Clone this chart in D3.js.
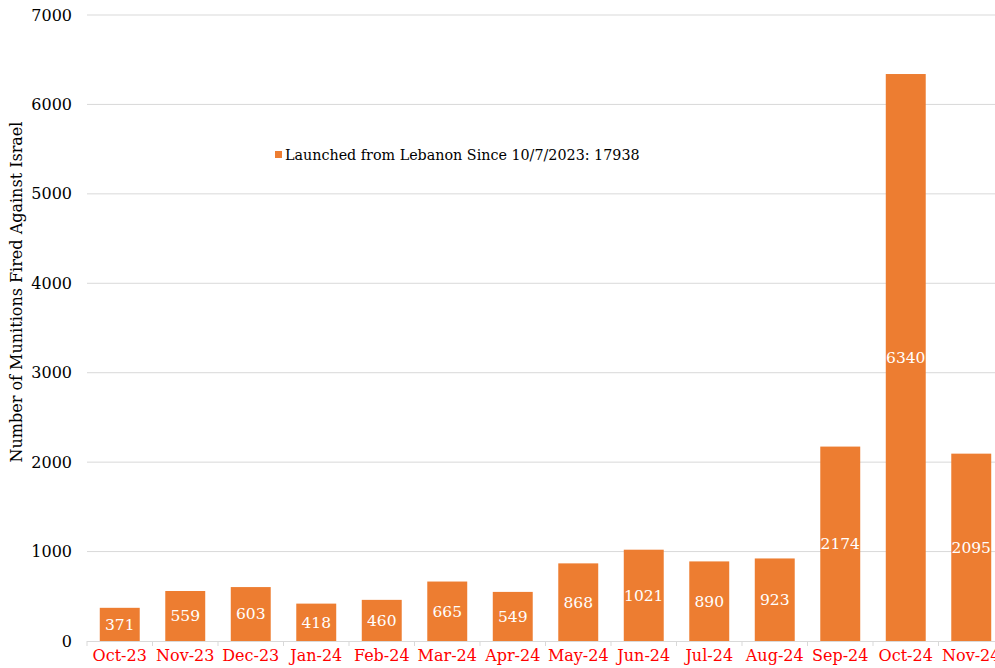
<!DOCTYPE html>
<html>
<head>
<meta charset="utf-8">
<script src="https://cdn.jsdelivr.net/npm/d3@7"></script>
<style>
  html, body { margin: 0; padding: 0; background: #fff; }
  svg { display: block; }
</style>
</head>
<body>
<svg id="chart" width="995" height="668"></svg>
<script>
// Monthly munitions launched from Lebanon
const months = ["Oct-23","Nov-23","Dec-23","Jan-24","Feb-24","Mar-24","Apr-24","May-24","Jun-24","Jul-24","Aug-24","Sep-24","Oct-24","Nov-24"];
const launched = [371,559,603,418,460,665,549,868,1021,890,923,2174,6340,2095];
const yTicks = [0,1000,2000,3000,4000,5000,6000,7000];
const legendLabel = "Launched from Lebanon Since 10/7/2023: 17938";
const yTitle = "Number of Munitions Fired Against Israel";

const svg = d3.select("#chart");
const font = "'DejaVu Serif', serif";
const orange = "#ED7D31";

const plotLeft = 87, plotRight = 1004, plotTop = 15, plotBottom = 641;

const x = d3.scaleBand().domain(months).range([plotLeft, plotRight]).paddingInner(0.39).paddingOuter(0.195);
const y = d3.scaleLinear().domain([0, 7000]).range([plotBottom, plotTop]);

// gridlines
svg.append("g").selectAll("line").data(yTicks.filter(d => d > 0)).join("line")
  .attr("x1", plotLeft).attr("x2", plotRight)
  .attr("y1", d => y(d)).attr("y2", d => y(d))
  .attr("stroke", "#d9d9d9").attr("stroke-width", 1);

// y tick labels
svg.append("g").selectAll("text").data(yTicks).join("text")
  .attr("x", 72).attr("y", d => y(d)).attr("dy", "0.35em")
  .attr("text-anchor", "end")
  .attr("font-family", font).attr("font-size", 16).attr("fill", "#000")
  .text(d => d);

// bars
svg.append("g").selectAll("rect").data(months).join("rect")
  .attr("x", d => x(d)).attr("width", x.bandwidth())
  .attr("y", (d, i) => y(launched[i]))
  .attr("height", (d, i) => y(0) - y(launched[i]))
  .attr("fill", orange);

// value labels centred in bars
svg.append("g").selectAll("text").data(months).join("text")
  .attr("x", d => x(d) + x.bandwidth() / 2)
  .attr("y", (d, i) => (y(launched[i]) + y(0)) / 2)
  .attr("dy", "0.35em").attr("text-anchor", "middle")
  .attr("font-family", font).attr("font-size", 15.5).attr("fill", "#fff")
  .text((d, i) => launched[i]);

// x axis
const xAxis = d3.axisBottom(x).tickSize(0).tickFormat(d => d);
const gx = svg.append("g").attr("transform", `translate(0,${plotBottom})`).call(xAxis);
gx.select(".domain").attr("stroke", "#d9d9d9").attr("d", `M${plotLeft},0.5H${plotRight}`);
gx.selectAll("text").attr("font-family", font).attr("font-size", 16).attr("fill", "#ff0000").attr("dy", "1.05em");
// boundary tick marks between categories
const step = x.step();
svg.append("g").selectAll("line").data(d3.range(months.length + 1)).join("line")
  .attr("x1", i => plotLeft + i * step).attr("x2", i => plotLeft + i * step)
  .attr("y1", plotBottom).attr("y2", plotBottom + 5)
  .attr("stroke", "#d9d9d9");

// y axis title
svg.append("text")
  .attr("transform", `translate(22,${(plotTop + plotBottom) / 2 - 36}) rotate(-90)`)
  .attr("text-anchor", "middle")
  .attr("font-family", font).attr("font-size", 16).attr("fill", "#000")
  .text(yTitle);

// legend
const lg = svg.append("g").attr("transform", "translate(275,155)");
lg.append("rect").attr("x", 0).attr("y", -4).attr("width", 7).attr("height", 7).attr("fill", orange);
lg.append("text").attr("x", 10).attr("y", 0).attr("dy", "0.35em")
  .attr("font-family", font).attr("font-size", 14.3).attr("fill", "#000")
  .text(legendLabel);
</script>
</body>
</html>
